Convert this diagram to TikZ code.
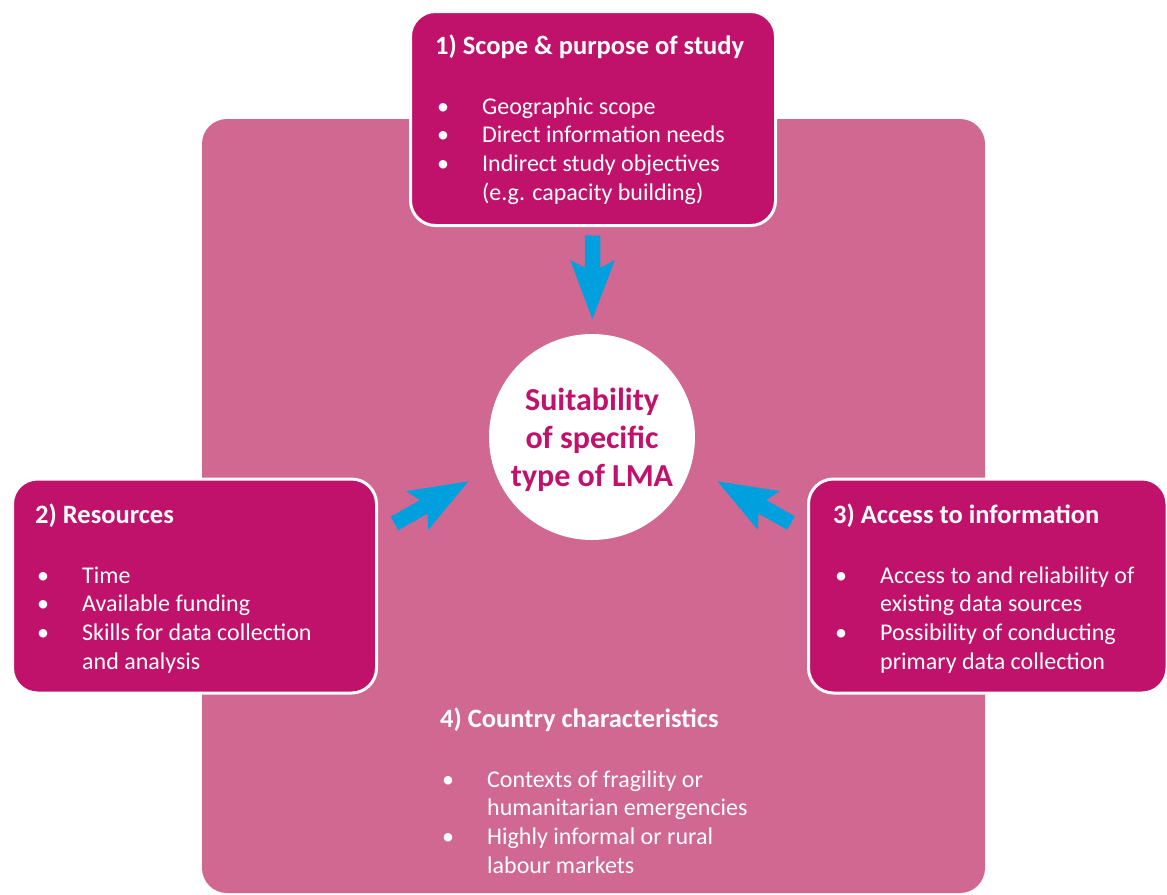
\documentclass[tikz,border=0pt]{standalone}
\usepackage{fontspec}
\setmainfont{Carlito}
\usetikzlibrary{arrows.meta}

\definecolor{lmaMagenta}{RGB}{192,18,107}
\definecolor{lmaPink}{RGB}{208,104,146}
\definecolor{lmaBlue}{RGB}{0,160,223}

\newcommand{\hd}[1]{{\fontsize{26.5}{31}\selectfont\bfseries #1}}
\newcommand{\itm}{\hspace*{2pt}\makebox[45pt][l]{\textbullet}}
\newcommand{\cnt}{\hspace*{47pt}}

\begin{document}
\begin{tikzpicture}[
    x=1pt,y=-1pt,
    every node/.style={font=\fontsize{24}{28.7}\selectfont},
    panel/.style={rectangle,rounded corners=25pt,fill=lmaMagenta,draw=white,line width=3pt,inner sep=0pt},
    bodytxt/.style={anchor=base west,inner sep=0pt,text=white},
    blockarrow/.style={draw=lmaBlue,line width=15.5pt,-{Stealth[length=58pt,width=42pt,inset=10pt]}}
]
\useasboundingbox (0,0) rectangle (1167,894);

% background: country characteristics
\node[rectangle,rounded corners=25pt,fill=lmaPink,inner sep=0pt,minimum width=783pt,minimum height=774pt] (country) at (593.5,506) {};

% the three factor panels
\node[panel,minimum width=365pt,minimum height=214pt] (scope) at (593,118.5) {};
\node[panel,minimum width=364pt,minimum height=214pt] (res) at (194.5,586) {};
\node[panel,minimum width=358.5pt,minimum height=214pt] (acc) at (987.75,586) {};

% centre
\node[circle,fill=white,inner sep=0pt,minimum size=206pt,align=center,text=lmaMagenta,
      font=\fontsize{32}{38}\selectfont\bfseries] (lma) at (592,437) {};
\node[text=lmaMagenta,align=center,font=\fontsize{32}{38}\selectfont\bfseries] (lmatxt) at (592,440) {Suitability\\of specific\\type of LMA};

% panel texts
\node[bodytxt] (scopetxt) at (435,54.4) {\begin{tabular}[t]{@{}l@{}}
    \hd{1) Scope \& purpose of study}\\[31pt]
    \itm Geographic scope\\
    \itm Direct information needs\\
    \itm Indirect study objectives\\
    \cnt (e.g. capacity building)
  \end{tabular}};
\node[bodytxt] (restxt) at (35,523.4) {\begin{tabular}[t]{@{}l@{}}
    \hd{2) Resources}\\[31pt]
    \itm Time\\
    \itm Available funding\\
    \itm Skills for data collection\\
    \cnt and analysis
  \end{tabular}};
\node[bodytxt] (acctxt) at (833,523.4) {\begin{tabular}[t]{@{}l@{}}
    \hd{3) Access to information}\\[31pt]
    \itm Access to and reliability of\\
    \cnt existing data sources\\
    \itm Possibility of conducting\\
    \cnt primary data collection
  \end{tabular}};
\node[bodytxt] (countrytxt) at (440,727.4) {\begin{tabular}[t]{@{}l@{}}
    \hd{4) Country characteristics}\\[31pt]
    \itm Contexts of fragility or\\
    \cnt humanitarian emergencies\\
    \itm Highly informal or rural\\
    \cnt labour markets
  \end{tabular}};

% arrows
\coordinate (resfoot) at (394.5,523.5);
\coordinate (reshead) at (469,481);
\coordinate (accfoot) at (791,523);
\coordinate (acchead) at (717,481);

\draw[blockarrow,shorten <=8.5pt,shorten >=14pt] (scope) -- (lma);
\draw[blockarrow] (resfoot) -- (reshead);
\draw[blockarrow] (accfoot) -- (acchead);

\end{tikzpicture}
\end{document}
